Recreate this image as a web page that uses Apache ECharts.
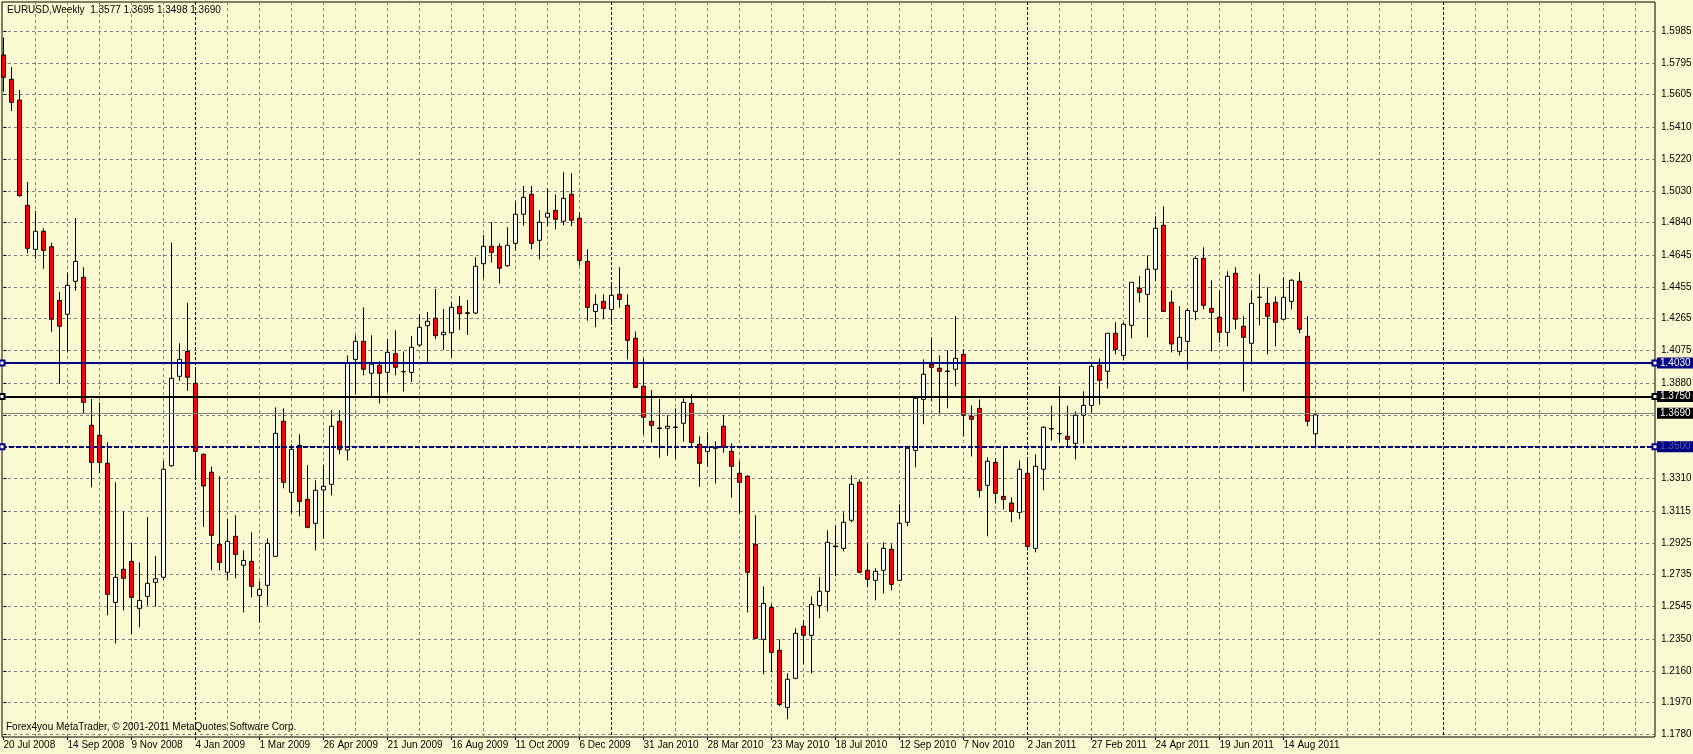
<!DOCTYPE html>
<html>
<head>
<meta charset="utf-8">
<title>EURUSD Weekly</title>
<script src="https://cdn.jsdelivr.net/npm/echarts@6/dist/echarts.min.js"></script>
<style>
html, body { margin: 0; padding: 0; background: #fafad2; }
#chart { width: 1693px; height: 754px; }
</style>
</head>
<body>
<div id="chart"></div>
<script>
const header = 'EURUSD,Weekly  1.3577 1.3695 1.3498 1.3690'
const copyright = 'Forex4you MetaTrader, © 2001-2011 MetaQuotes Software Corp.'

// one label every 8 weeks, starting at the first bar
const dateLabels = ['20 Jul 2008', '14 Sep 2008', '9 Nov 2008', '4 Jan 2009', '1 Mar 2009', '26 Apr 2009',
  '21 Jun 2009', '16 Aug 2009', '11 Oct 2009', '6 Dec 2009', '31 Jan 2010', '28 Mar 2010', '23 May 2010',
  '18 Jul 2010', '12 Sep 2010', '7 Nov 2010', '2 Jan 2011', '27 Feb 2011', '24 Apr 2011', '19 Jun 2011', '14 Aug 2011']
const priceTicks = ['1.1780', '1.1970', '1.2160', '1.2350', '1.2545', '1.2735', '1.2925', '1.3115', '1.3310',
  '1.3500', '1.3690', '1.3880', '1.4075', '1.4265', '1.4455', '1.4645', '1.4840', '1.5030', '1.5220', '1.5410',
  '1.5605', '1.5795', '1.5985']
// bar index of first week of each year
const yearStarts = [24, 76, 128, 180]

const open = [1.5842, 1.5697, 1.5573, 1.4943, 1.4680, 1.4788, 1.4696, 1.4375, 1.4292, 1.4489,
  1.4513, 1.3628, 1.3568, 1.3401, 1.2569, 1.2767, 1.2814, 1.2533, 1.2605, 1.2689,
  1.2719, 1.3386, 1.3921, 1.4070, 1.3879, 1.3454, 1.3347, 1.2916, 1.2749, 1.2964,
  1.2791, 1.2814, 1.2611, 1.2671, 1.2844, 1.3652, 1.3227, 1.3508, 1.3185, 1.3042,
  1.3241, 1.3275, 1.3652, 1.3480, 1.4022, 1.4130, 1.3939, 1.3987, 1.3945, 1.4056,
  1.3948, 1.3944, 1.4108, 1.4223, 1.4268, 1.4170, 1.4181, 1.4339, 1.4297, 1.4299,
  1.4594, 1.4698, 1.4698, 1.4582, 1.4716, 1.4890, 1.5009, 1.4734, 1.4872, 1.4913,
  1.4848, 1.5009, 1.4866, 1.4608, 1.4309, 1.4369, 1.4321, 1.4411, 1.4345, 1.4148,
  1.3861, 1.3652, 1.3612, 1.3610, 1.3617, 1.3640, 1.3759, 1.3514, 1.3472, 1.3496,
  1.3622, 1.3472, 1.3341, 1.3323, 1.2916, 1.2348, 1.2539, 1.2282, 1.1941, 1.2115,
  1.2426, 1.2372, 1.2551, 1.2635, 1.2906, 1.2892, 1.3060, 1.3287, 1.2761, 1.2701,
  1.2761, 1.2886, 1.2701, 1.3048, 1.3478, 1.3783, 1.3993, 1.3969, 1.3952, 1.3963,
  1.4052, 1.3682, 1.3729, 1.3269, 1.3406, 1.3203, 1.3163, 1.3107, 1.3341, 1.2892,
  1.3365, 1.3608, 1.3579, 1.3562, 1.3520, 1.3688, 1.3747, 1.3987, 1.3951, 1.4178,
  1.4046, 1.4226, 1.4447, 1.4411, 1.4561, 1.4824, 1.4363, 1.4070, 1.4130, 1.4309,
  1.4626, 1.4327, 1.4274, 1.4184, 1.4537, 1.4220, 1.4118, 1.4392, 1.4357, 1.4363,
  1.4262, 1.4369, 1.4489, 1.4160, 1.3577]
const high = [1.5946, 1.5770, 1.5633, 1.5083, 1.4909, 1.4806, 1.4720, 1.4425, 1.4540, 1.4867,
  1.4573, 1.3785, 1.3765, 1.3526, 1.3287, 1.3113, 1.2926, 1.2808, 1.3079, 1.2846,
  1.3414, 1.4720, 1.4118, 1.4359, 1.3969, 1.3460, 1.3380, 1.3323, 1.3067, 1.3090,
  1.2880, 1.2988, 1.2695, 1.2952, 1.3735, 1.3729, 1.3514, 1.3574, 1.3389, 1.3299,
  1.3389, 1.3717, 1.3717, 1.4046, 1.4166, 1.4333, 1.4166, 1.4010, 1.4142, 1.4196,
  1.4070, 1.4162, 1.4290, 1.4305, 1.4443, 1.4323, 1.4367, 1.4401, 1.4377, 1.4632,
  1.4766, 1.4843, 1.4716, 1.4812, 1.4965, 1.5059, 1.5059, 1.4913, 1.5045, 1.5009,
  1.5141, 1.5135, 1.4901, 1.4680, 1.4411, 1.4411, 1.4483, 1.4573, 1.4411, 1.4189,
  1.4028, 1.3839, 1.3785, 1.3688, 1.3729, 1.3789, 1.3813, 1.3562, 1.3586, 1.3532,
  1.3688, 1.3520, 1.3413, 1.3329, 1.3090, 1.2665, 1.2557, 1.2348, 1.2145, 1.2414,
  1.2462, 1.2605, 1.2719, 1.3000, 1.3027, 1.3107, 1.3329, 1.3305, 1.2916, 1.2773,
  1.2928, 1.2916, 1.3155, 1.3490, 1.3789, 1.4022, 1.4154, 1.4046, 1.4076, 1.4281,
  1.4082, 1.3747, 1.3783, 1.3436, 1.3430, 1.3496, 1.3197, 1.3418, 1.3430, 1.3454,
  1.3622, 1.3745, 1.3859, 1.3745, 1.3711, 1.3831, 1.4004, 1.4028, 1.4178, 1.4244,
  1.4244, 1.4483, 1.4519, 1.4644, 1.4878, 1.4937, 1.4435, 1.4339, 1.4327, 1.4638,
  1.4692, 1.4495, 1.4435, 1.4549, 1.4573, 1.4280, 1.4435, 1.4531, 1.4453, 1.4399,
  1.4513, 1.4501, 1.4543, 1.4280, 1.3695]
const low = [1.5623, 1.5507, 1.4995, 1.4656, 1.4624, 1.4564, 1.4187, 1.3877, 1.4068, 1.4433,
  1.3700, 1.3257, 1.3341, 1.2492, 1.2324, 1.2521, 1.2380, 1.2420, 1.2551, 1.2543,
  1.2703, 1.3380, 1.3894, 1.3835, 1.3311, 1.3021, 1.2761, 1.2761, 1.2701, 1.2713,
  1.2509, 1.2599, 1.2450, 1.2551, 1.2844, 1.3251, 1.3101, 1.3084, 1.3012, 1.2880,
  1.2952, 1.3209, 1.3454, 1.3418, 1.3813, 1.3927, 1.3801, 1.3759, 1.3825, 1.3927,
  1.3830, 1.3887, 1.4099, 1.4002, 1.4144, 1.4078, 1.4034, 1.4198, 1.4168, 1.4293,
  1.4507, 1.4602, 1.4475, 1.4576, 1.4674, 1.4821, 1.4680, 1.4620, 1.4818, 1.4800,
  1.4824, 1.4818, 1.4582, 1.4253, 1.4214, 1.4262, 1.4244, 1.4331, 1.4022, 1.3850,
  1.3576, 1.3525, 1.3434, 1.3446, 1.3428, 1.3530, 1.3500, 1.3261, 1.3380, 1.3279,
  1.3464, 1.3195, 1.3101, 1.2509, 1.2348, 1.2139, 1.2151, 1.1947, 1.1870, 1.2109,
  1.2199, 1.2145, 1.2474, 1.2515, 1.2725, 1.2874, 1.3048, 1.2743, 1.2659, 1.2581,
  1.2623, 1.2641, 1.2701, 1.3024, 1.3377, 1.3634, 1.3771, 1.3694, 1.3729, 1.3861,
  1.3562, 1.3442, 1.3197, 1.2964, 1.3161, 1.3125, 1.3048, 1.3066, 1.2880, 1.2868,
  1.3239, 1.3536, 1.3526, 1.3496, 1.3424, 1.3520, 1.3705, 1.3751, 1.3849, 1.4052,
  1.4016, 1.4148, 1.4363, 1.4154, 1.4489, 1.4309, 1.4064, 1.4046, 1.3963, 1.4256,
  1.4321, 1.4070, 1.4124, 1.4100, 1.4202, 1.3831, 1.4004, 1.4226, 1.4052, 1.4100,
  1.4256, 1.4321, 1.4178, 1.3622, 1.3498]
const close = [1.5709, 1.5559, 1.5001, 1.4686, 1.4788, 1.4674, 1.4262, 1.4220, 1.4465, 1.4608,
  1.3765, 1.3406, 1.3406, 1.2617, 1.2719, 1.2713, 1.2599, 1.2581, 1.2683, 1.2710,
  1.3365, 1.3909, 1.4022, 1.3915, 1.3472, 1.3265, 1.2970, 1.2808, 1.2934, 1.2856,
  1.2820, 1.2665, 1.2647, 1.2922, 1.3580, 1.3287, 1.3484, 1.3173, 1.3018, 1.3239,
  1.3263, 1.3622, 1.3484, 1.3999, 1.4130, 1.3963, 1.3993, 1.3939, 1.4064, 1.3975,
  1.3949, 1.4094, 1.4214, 1.4250, 1.4164, 1.4184, 1.4333, 1.4295, 1.4301, 1.4579,
  1.4698, 1.4662, 1.4567, 1.4704, 1.4890, 1.4991, 1.4716, 1.4842, 1.4896, 1.4860,
  1.4985, 1.4854, 1.4614, 1.4333, 1.4351, 1.4327, 1.4405, 1.4381, 1.4136, 1.3855,
  1.3676, 1.3627, 1.3608, 1.3622, 1.3615, 1.3765, 1.3526, 1.3401, 1.3496, 1.3490,
  1.3496, 1.3383, 1.3287, 1.2749, 1.2354, 1.2563, 1.2270, 1.1959, 1.2109, 1.2384,
  1.2372, 1.2557, 1.2635, 1.2928, 1.2902, 1.3048, 1.3275, 1.2749, 1.2707, 1.2755,
  1.2892, 1.2677, 1.3042, 1.3490, 1.3789, 1.3933, 1.3975, 1.3951, 1.3950, 1.4028,
  1.3688, 1.3664, 1.3239, 1.3413, 1.3221, 1.3185, 1.3113, 1.3365, 1.2904, 1.3383,
  1.3616, 1.3606, 1.3577, 1.3544, 1.3688, 1.3747, 1.3981, 1.3897, 1.4178, 1.4082,
  1.4232, 1.4483, 1.4423, 1.4561, 1.4806, 1.4309, 1.4114, 1.4154, 1.4315, 1.4626,
  1.4345, 1.4303, 1.4184, 1.4519, 1.4262, 1.4154, 1.4357, 1.4394, 1.4280, 1.4244,
  1.4393, 1.4495, 1.4202, 1.3652, 1.3690]

// horizontal levels drawn by the user, and the current bid line
const levelValues = [1.4030, 1.3750, 1.3500]
const levelColors = ['#000080', '#000000', '#000080']
const bidValue = 1.3690

const FONT = 'Liberation Sans'
const X_MIN = -0.1875
const X_MAX = 206.4375

const gridWeeks = []
for (let w = 4; w <= 204; w += 4) if (!yearStarts.includes(w)) gridWeeks.push(w)
const labelWeeks = dateLabels.map((d, i) => i * 8)

const bars = open.map((o, i) => [i, o, close[i], low[i], high[i]])

const dashed = { color: '#808080', width: 1, type: [3, 3] }

function tag(text, bg, fg) {
  return {
    show: true,
    position: 'end',
    distance: 2,
    formatter: text,
    fontFamily: FONT,
    fontSize: 10,
    lineHeight: 10,
    padding: [1, 4, 0, 3],
    color: fg,
    backgroundColor: bg
  }
}

const levelLines = levelValues.map((v, i) => ({
  yAxis: v,
  lineStyle: { color: levelColors[i], width: 2, type: i === 2 ? [5, 2] : 'solid' },
  label: tag(v.toFixed(4), levelColors[i], i === 2 ? '#5a5aa8' : '#ffffff')
}))

const xBase = {
  type: 'value', position: 'bottom', min: X_MIN, max: X_MAX,
  axisLine: { show: false },
  axisLabel: { show: false },
  splitLine: { show: false }
}

const chart = echarts.init(document.getElementById('chart'))
chart.setOption({
  animation: false,
  backgroundColor: '#fafad2',
  textStyle: { fontFamily: FONT },
  graphic: [
    { type: 'text', left: 7, top: 5, z: 100, style: { text: header, font: '10px "Liberation Sans"', fill: '#000' } },
    { type: 'text', left: 6, top: 722, z: 100, style: { text: copyright, font: '10px "Liberation Sans"', fill: '#000' } }
  ],
  grid: {
    left: 2, right: 38, top: 2, bottom: 17,
    outerBoundsMode: 'none',
    show: true, borderColor: '#000', borderWidth: 1, backgroundColor: '#fafad2'
  },
  xAxis: [
    Object.assign({}, xBase, {
      axisTick: { show: false, customValues: gridWeeks },
      splitLine: { show: true, lineStyle: dashed }
    }),
    Object.assign({}, xBase, {
      axisTick: { show: true, customValues: labelWeeks, length: 3, lineStyle: { color: '#000' } },
      axisLabel: {
        show: true, customValues: labelWeeks,
        formatter: v => dateLabels[Math.round(v / 8)],
        align: 'left', margin: 3, color: '#000', fontSize: 10, fontFamily: FONT
      }
    }),
    Object.assign({}, xBase, {
      axisTick: { show: false, customValues: yearStarts },
      splitLine: { show: true, lineStyle: { color: '#000', width: 1, type: [3, 2] } }
    })
  ],
  yAxis: {
    type: 'value', position: 'right', min: 1.1764, max: 1.6159,
    axisLine: { show: false },
    axisTick: { show: true, customValues: priceTicks.map(Number), length: 3, lineStyle: { color: '#000' } },
    axisLabel: {
      show: true, customValues: priceTicks.map(Number),
      formatter: v => v.toFixed(4),
      margin: 6, color: '#000', fontSize: 10, fontFamily: FONT
    },
    splitLine: { show: true, lineStyle: dashed }
  },
  series: [
    {
      type: 'candlestick',
      data: bars,
      encode: { x: 0, y: [1, 2, 3, 4] },
      barWidth: 4,
      itemStyle: {
        color: '#ffffff',
        color0: '#ff0000',
        borderColor: '#000000',
        borderColor0: '#000000',
        borderColorDoji: '#000000',
        borderWidth: 1
      },
      markLine: {
        silent: true,
        animation: false,
        symbol: ['emptyRect', 'emptyRect'],
        symbolSize: 5,
        data: levelLines
      }
    },
    {
      type: 'line',
      data: [],
      markLine: {
        silent: true,
        animation: false,
        symbol: ['none', 'none'],
        data: [{
          yAxis: bidValue,
          lineStyle: { color: '#808080', width: 1, type: 'solid' },
          label: tag(bidValue.toFixed(4), '#000000', '#ffffff')
        }]
      }
    }
  ]
})
</script>
</body>
</html>
